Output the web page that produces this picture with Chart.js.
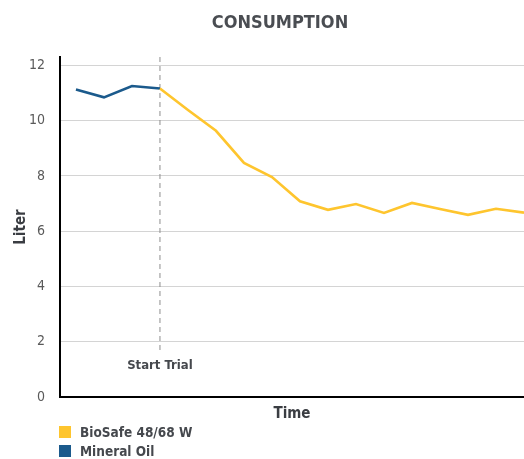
<!DOCTYPE html>
<html>
<head>
<meta charset="utf-8">
<style>
html,body{margin:0;padding:0;background:#fff;}
#wrap{width:524px;height:459px;position:relative;}
</style>
<script src="https://cdn.jsdelivr.net/npm/chart.js@4.4.1/dist/chart.umd.min.js"></script>
</head>
<body>
<div id="wrap"><canvas id="c" width="524" height="459"></canvas></div>
<script>
const NARROW = "'DejaVu Sans Condensed', 'Roboto', sans-serif";

const chartTitle = "CONSUMPTION";
const yAxisTitle = "Liter";
const xAxisTitle = "Time";
const markerLabel = "Start Trial";
const markerIndex = 3;
const yTicks = [0, 2, 4, 6, 8, 10, 12];

const seriesNames = ["BioSafe 48/68 W", "Mineral Oil"];
const seriesColors = ["#FEC52E", "#1B5A8C"];
const bioSafeValues = [null, null, null, 11.16, 10.38, 9.63, 8.47, 7.96, 7.08, 6.77, 6.98, 6.66, 7.02, 6.80, 6.59, 6.81, 6.67];
const mineralOilValues = [11.12, 10.84, 11.25, 11.16, null, null, null, null, null, null, null, null, null, null, null, null, null];

const toPoints = arr => arr.map((v, i) => ({x: i, y: v}));

const overlay = {
  id: 'overlay',
  beforeDatasetsDraw(chart) {
    const {ctx, chartArea, scales} = chart;
    const x = scales.x.getPixelForValue(markerIndex);
    ctx.save();
    ctx.strokeStyle = '#8e8e8e';
    ctx.lineWidth = 1;
    ctx.setLineDash([5, 4]);
    ctx.beginPath();
    ctx.moveTo(x, chartArea.top);
    ctx.lineTo(x, scales.y.getPixelForValue(1.6));
    ctx.stroke();
    ctx.restore();
  },
  afterDraw(chart) {
    const {ctx, chartArea, scales} = chart;
    ctx.save();
    // title
    ctx.fillStyle = '#4a4d52';
    ctx.font = "bold 18px " + NARROW;
    ctx.textAlign = 'center';
    ctx.textBaseline = 'middle';
    ctx.fillText(chartTitle, (chartArea.left + chartArea.right) / 2 - 12, 23);
    // marker label
    ctx.font = "bold 13px " + NARROW;
    ctx.fillStyle = '#45484d';
    ctx.fillText(markerLabel, scales.x.getPixelForValue(markerIndex), scales.y.getPixelForValue(1.15));
    // legend
    ctx.textAlign = 'left';
    ctx.font = "bold 13.5px " + NARROW;
    chart.data.datasets.forEach((ds, i) => {
      const y = 432 + i * 19;
      ctx.fillStyle = ds.borderColor;
      ctx.fillRect(chartArea.left - 1, y - 6, 12, 12);
      ctx.fillStyle = '#45484d';
      ctx.fillText(ds.label, chartArea.left + 20, y + 1);
    });
    ctx.restore();
  }
};

new Chart(document.getElementById('c'), {
  type: 'line',
  data: {
    datasets: [
      {label: seriesNames[0], data: toPoints(bioSafeValues), borderColor: seriesColors[0], backgroundColor: seriesColors[0], borderWidth: 2.6, pointRadius: 0, tension: 0, spanGaps: false},
      {label: seriesNames[1], data: toPoints(mineralOilValues), borderColor: seriesColors[1], backgroundColor: seriesColors[1], borderWidth: 2.6, pointRadius: 0, tension: 0, spanGaps: false}
    ]
  },
  options: {
    responsive: false,
    animation: false,
    devicePixelRatio: 1,
    layout: {padding: {top: 57, right: 0, bottom: 32, left: 0}},
    plugins: {legend: {display: false}, title: {display: false}, tooltip: {enabled: false}},
    scales: {
      x: {
        type: 'linear',
        min: -0.57,
        max: 16,
        ticks: {display: false},
        grid: {display: false, drawTicks: false},
        border: {display: true, color: '#000', width: 2},
        title: {display: true, text: xAxisTitle, color: '#3a3d42', font: {family: NARROW, size: 15, weight: 'bold'}, padding: {top: 0, bottom: 4}},
        afterFit(s) { s.height = 30; }
      },
      y: {
        min: 0,
        max: 12.3,
        afterBuildTicks(s) { s.ticks = yTicks.map(v => ({value: v})); },
        ticks: {color: '#5a5a5a', padding: 15, font: {family: NARROW, size: 14}},
        grid: {color: '#d4d4d4', lineWidth: 1, drawTicks: false},
        border: {display: true, color: '#000', width: 2},
        title: {display: true, text: yAxisTitle, color: '#3a3d42', font: {family: NARROW, size: 15, weight: 'bold'}, padding: {top: 12, bottom: 0}},
        afterFit(s) { s.width = 60; }
      }
    }
  },
  plugins: [overlay]
});
</script>
</body>
</html>
